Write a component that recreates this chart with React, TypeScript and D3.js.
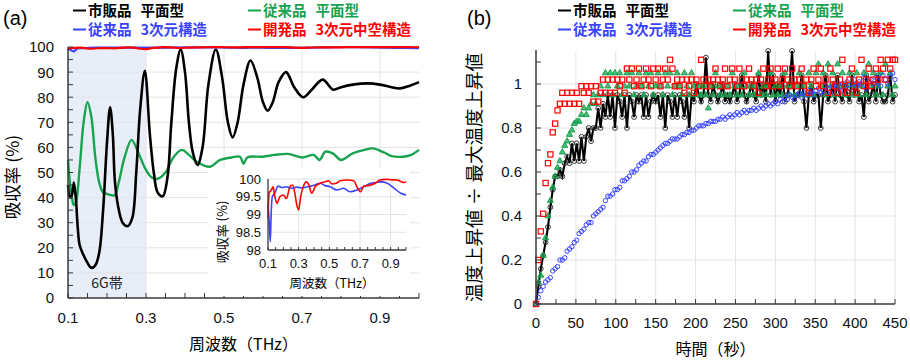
import React from "react";
import * as d3 from "d3";

const NUM = "'Liberation Sans', Arial, sans-serif";
const JP = "'Noto Sans CJK JP', 'Noto Sans', sans-serif";

const BLACK = "#000000";
const GREEN = "#17a34f";
const BLUE = "#3a44ff";
const RED = "#ff0000";

// ---- (a) absorption spectra, frequency (THz) / absorption (%)
const freqBlack = [0.1, 0.105, 0.11, 0.115, 0.12, 0.125, 0.13, 0.14, 0.15, 0.16, 0.17, 0.18, 0.19, 0.2, 0.208, 0.215, 0.22, 0.228, 0.24, 0.253, 0.265, 0.275, 0.285, 0.297, 0.31, 0.32, 0.33, 0.343, 0.355, 0.365, 0.378, 0.389, 0.4, 0.41, 0.42, 0.432, 0.445, 0.46, 0.479, 0.495, 0.51, 0.522, 0.535, 0.55, 0.568, 0.585, 0.6, 0.612, 0.625, 0.64, 0.659, 0.68, 0.703, 0.725, 0.753, 0.78, 0.8, 0.83, 0.87, 0.9, 0.93, 0.951, 0.975, 1.0];
const absBlack = [45, 40, 41, 46, 40, 28, 21, 17, 14, 12, 13, 18, 35, 62, 76, 65, 47, 37, 30, 28.6, 32, 50, 75, 90.5, 65, 50, 42, 40.5, 48, 70, 92, 99, 90, 70, 58, 53, 60, 85, 99, 88, 70, 64, 70, 85, 94.6, 88, 78, 74.6, 78, 86, 90, 84, 80, 83, 87, 83, 84, 85, 85.5, 85, 84, 83.5, 84.5, 86];

const freqGreen = [0.1, 0.105, 0.11, 0.115, 0.12, 0.13, 0.14, 0.15, 0.16, 0.17, 0.18, 0.19, 0.2, 0.21, 0.22, 0.23, 0.245, 0.263, 0.28, 0.3, 0.315, 0.33, 0.35, 0.37, 0.392, 0.41, 0.43, 0.464, 0.49, 0.52, 0.541, 0.55, 0.56, 0.6, 0.63, 0.664, 0.7, 0.73, 0.745, 0.76, 0.78, 0.8, 0.83, 0.86, 0.882, 0.91, 0.93, 0.96, 0.98, 1.0];
const absGreen = [55, 46, 40, 37, 38, 52, 70, 78, 72, 56, 46, 42, 41.5, 41, 41, 46, 56, 63, 58, 51, 48, 47.5, 50, 56, 59, 57, 54.3, 52.3, 55, 56, 56.3, 53.5, 56, 56.3, 57, 57.4, 56, 57, 55, 58.3, 57.5, 55, 57.6, 59, 59.6, 58, 56.5, 56.3, 57, 59];

const freqBlue = [0.1, 0.107, 0.115, 0.12, 0.128, 0.144, 0.166, 0.19, 0.22, 0.25, 0.286, 0.32, 0.374, 0.41, 0.44, 0.47, 0.506, 0.55, 0.593, 0.637, 0.681, 0.725, 0.769, 0.8, 0.835, 0.878, 0.922, 0.966, 1.0];
const absBlue = [99.31, 98.85, 98.23, 98.94, 99.5, 99.6, 99.8, 99.76, 99.78, 99.74, 99.77, 99.75, 99.8, 99.84, 99.88, 99.82, 99.78, 99.69, 99.74, 99.64, 99.69, 99.78, 99.88, 99.9, 99.92, 99.88, 99.74, 99.6, 99.55];

const freqRed = [0.1, 0.107, 0.122, 0.133, 0.145, 0.159, 0.177, 0.2, 0.22, 0.243, 0.26, 0.275, 0.286, 0.3, 0.313, 0.33, 0.348, 0.365, 0.385, 0.407, 0.44, 0.47, 0.495, 0.517, 0.545, 0.57, 0.615, 0.66, 0.68, 0.703, 0.725, 0.76, 0.8, 0.83, 0.868, 0.9, 0.944, 0.97, 0.988, 1.0];
const absRed = [98.9, 99.6, 99.69, 99.78, 99.5, 99.31, 99.5, 99.55, 99.45, 99.78, 99.83, 99.6, 99.31, 99.13, 99.5, 99.78, 99.92, 99.85, 99.6, 99.78, 99.88, 99.92, 99.95, 99.86, 99.88, 99.95, 99.97, 99.95, 99.78, 99.64, 99.8, 99.82, 99.88, 99.97, 99.99, 99.98, 99.97, 99.92, 99.9, 99.93];

const xTicksA = [0.1, 0.3, 0.5, 0.7, 0.9];
const yTicksA = [0, 10, 20, 30, 40, 50, 60, 70, 80, 90, 100];
const yTicksInset = [98, 98.5, 99, 99.5, 100];

// ---- (b) temperature rise / max temperature rise, sampled every 3 s
const sampleStep = 3;
const riseBlack = [
  0, 0.08, 0.16, 0.22, 0.28, 0.35, 0.44, 0.52, 0.58, 0.58,
  0.61, 0.58, 0.64, 0.67, 0.64, 0.73, 0.65, 0.73, 0.65, 0.76,
  0.65, 0.76, 0.8, 0.74, 0.8, 0.8, 0.89, 0.8, 0.91, 0.85,
  0.95, 0.85, 0.95, 0.8, 0.95, 0.92, 0.85, 0.95, 0.8, 0.95,
  0.92, 0.85, 0.95, 0.92, 0.95, 0.85, 0.95, 0.85, 0.92, 0.95,
  0.92, 0.95, 0.85, 0.95, 0.8, 0.95, 0.92, 0.85, 0.95, 0.85,
  0.95, 0.92, 0.85, 0.95, 0.8, 0.95, 0.92, 1.0, 0.95, 0.92,
  0.95, 1.12, 0.95, 0.92, 1.0, 0.95, 0.92, 0.95, 1.0, 0.92,
  0.95, 0.92, 0.95, 1.0, 0.92, 0.95, 1.04, 0.95, 0.92, 0.95,
  1.0, 0.95, 0.92, 1.04, 0.95, 1.0, 0.92, 1.15, 0.95, 1.04,
  0.92, 1.0, 0.95, 1.04, 0.92, 0.95, 1.0, 1.15, 0.92, 0.95,
  0.95, 1.04, 0.92, 0.8, 0.95, 1.0, 0.92, 0.95, 0.95, 0.8,
  0.95, 1.04, 0.92, 0.95, 1.0, 0.92, 1.04, 0.95, 0.92, 1.0,
  0.95, 0.92, 1.04, 0.95, 1.0, 0.92, 0.95, 0.85, 1.04, 0.92,
  0.95, 1.0, 0.92, 1.04, 0.95, 0.92, 0.92, 0.95, 1.04, 0.92,
  0.95,
];
const riseGreen = [
  0, 0.1, 0.13, 0.22, 0.3, 0.4, 0.47, 0.53, 0.58, 0.62,
  0.65, 0.69, 0.72, 0.74, 0.77, 0.79, 0.82, 0.83, 0.83, 0.86,
  0.89, 0.86, 0.89, 0.91, 0.95, 0.91, 0.95, 0.99, 0.95, 1.05,
  0.99, 1.05, 0.95, 1.05, 0.99, 1.05, 0.95, 0.99, 1.05, 0.99,
  1.05, 0.95, 0.99, 1.05, 0.99, 0.95, 1.05, 0.99, 1.05, 0.95,
  0.99, 1.05, 0.99, 0.95, 1.05, 0.99, 1.05, 0.95, 0.99, 1.05,
  0.99, 0.95, 1.05, 0.99, 0.95, 1.05, 0.99, 0.95, 0.99, 0.95,
  0.99, 0.95, 0.89, 0.99, 0.95, 1.05, 0.99, 0.95, 0.99, 0.95,
  0.99, 0.95, 1.05, 0.99, 0.95, 0.99, 0.95, 1.05, 0.99, 0.95,
  0.99, 0.95, 0.99, 1.05, 0.95, 0.99, 0.95, 0.99, 1.05, 0.95,
  0.99, 0.95, 0.99, 0.95, 1.05, 0.99, 0.95, 0.99, 0.95, 0.99,
  1.05, 0.95, 0.99, 0.95, 1.05, 0.99, 0.95, 1.05, 1.09, 0.99,
  1.05, 0.95, 1.09, 0.99, 1.05, 0.95, 1.09, 0.99, 1.05, 0.95,
  0.99, 1.05, 0.95, 0.99, 1.05, 0.95, 0.99, 1.05, 0.95, 1.09,
  0.99, 1.05, 0.95, 0.99, 1.05, 0.95, 1.09, 0.99, 1.05, 0.95,
  0.99,
];
const riseBlue = [
  0, 0.03, 0.06, 0.08, 0.1, 0.11, 0.12, 0.15, 0.16, 0.17,
  0.2, 0.2, 0.21, 0.24, 0.25, 0.26, 0.28, 0.29, 0.32, 0.33,
  0.34, 0.36, 0.37, 0.37, 0.4, 0.41, 0.42, 0.43, 0.44, 0.47,
  0.49, 0.49, 0.5, 0.52, 0.52, 0.53, 0.56, 0.56, 0.57, 0.58,
  0.6, 0.6, 0.61, 0.63, 0.64, 0.65, 0.65, 0.67, 0.68, 0.68,
  0.69, 0.7, 0.71, 0.72, 0.73, 0.73, 0.74, 0.75, 0.75, 0.75,
  0.76, 0.77, 0.77, 0.78, 0.78, 0.79, 0.79, 0.8, 0.81, 0.81,
  0.81, 0.82, 0.82, 0.83, 0.83, 0.83, 0.84, 0.84, 0.85, 0.84,
  0.85, 0.86, 0.85, 0.86, 0.87, 0.86, 0.87, 0.88, 0.87, 0.88,
  0.88, 0.89, 0.88, 0.89, 0.9, 0.89, 0.9, 0.91, 0.9, 0.91,
  0.92, 0.91, 0.93, 0.92, 0.94, 0.93, 0.95, 0.94, 0.93, 0.95,
  0.96, 0.94, 0.96, 0.95, 0.97, 0.96, 0.95, 0.97, 0.98, 0.96,
  0.97, 0.99, 0.98, 0.96, 0.99, 1.0, 0.98, 0.97, 1.0, 0.99,
  1.01, 0.98, 1.0, 1.02, 0.99, 1.01, 1.0, 1.03, 0.98, 1.01,
  1.02, 1.0, 1.03, 1.01, 0.99, 1.04, 1.02, 1.0, 1.03, 1.05,
  1.02,
];
const riseRed = [
  0, 0.2, 0.33, 0.41, 0.55, 0.64, 0.68, 0.78, 0.82, 0.88,
  0.91, 0.96, 0.91, 0.96, 0.91, 0.96, 0.91, 0.96, 0.91, 0.99,
  0.96, 0.99, 0.96, 0.99, 0.92, 0.99, 0.92, 0.96, 1.02, 0.96,
  1.02, 0.96, 1.02, 0.96, 1.02, 0.99, 1.02, 0.96, 1.07, 1.02,
  1.07, 0.99, 1.02, 1.07, 0.99, 1.02, 1.07, 1.02, 0.99, 1.07,
  1.02, 1.07, 0.99, 1.02, 1.07, 1.02, 1.11, 1.07, 0.99, 1.02,
  0.99, 1.02, 0.96, 1.02, 0.99, 1.02, 0.96, 1.02, 0.99, 1.11,
  1.02, 0.99, 1.02, 0.99, 1.02, 1.07, 1.02, 0.99, 1.02, 1.07,
  0.99, 1.02, 1.07, 1.02, 0.99, 1.07, 1.02, 0.99, 1.02, 1.07,
  1.02, 0.99, 1.02, 0.96, 1.02, 1.07, 0.99, 1.02, 1.07, 0.99,
  1.02, 1.07, 0.99, 1.02, 1.07, 1.02, 0.99, 1.07, 1.02, 0.99,
  1.02, 1.07, 0.99, 1.02, 0.96, 1.02, 1.07, 0.99, 1.02, 1.07,
  0.99, 1.02, 0.96, 1.07, 1.02, 0.99, 0.96, 1.02, 1.11, 0.99,
  0.96, 1.02, 1.07, 0.99, 0.96, 1.02, 1.11, 0.99, 1.02, 1.07,
  0.99, 1.02, 1.07, 1.02, 1.11, 1.07, 1.02, 1.11, 1.07, 1.11,
  1.11,
];
const xTicksB = [0, 50, 100, 150, 200, 250, 300, 350, 400, 450];
const yTicksB = [0, 0.2, 0.4, 0.6, 0.8, 1];

// ---- scales
const xA = d3.scaleLinear().domain([0.1, 1.0]).range([68, 419]);
const yA = d3.scaleLinear().domain([0, 100]).range([298, 47]);
const xI = d3.scaleLinear().domain([0.1, 1.0]).range([268, 406]);
const yI = d3.scaleLinear().domain([98, 100]).range([250, 179]);
const xB = d3.scaleLinear().domain([0, 450]).range([536, 895]);
const yB = d3.scaleLinear().domain([0, 1.15]).range([304, 51]);

const AXIS = "#3a3a3a";
const GRID = "#e4e4e4";

function spectrum(fx, fy, sx, sy, curve) {
  const pts = fx.map((f, i) => [f, fy[i]]);
  return d3.line().x((d) => sx(d[0])).y((d) => sy(d[1])).curve(curve)(pts);
}

function Legend({ x0, x1 }) {
  const items = [
    { x: x0, y: 16, c: BLACK, a: "市販品", b: "平面型" },
    { x: x1, y: 16, c: GREEN, a: "従来品", b: "平面型" },
    { x: x0, y: 35, c: BLUE, a: "従来品", b: "3次元構造" },
    { x: x1, y: 35, c: RED, a: "開発品", b: "3次元中空構造" },
  ];
  return (
    <g fontFamily={JP} fontWeight="bold" fontSize={14.5}>
      {items.map((it, i) => (
        <g key={i}>
          <line x1={it.x} x2={it.x + 13} y1={it.y - 5.5} y2={it.y - 5.5} stroke={it.c} strokeWidth={2} />
          <text x={it.x + 15} y={it.y} fill={it.c}>
            <tspan>{it.a}</tspan>
            <tspan dx={9}>{it.b}</tspan>
          </text>
        </g>
      ))}
    </g>
  );
}

function PanelA() {
  const x0 = xA.range()[0], x1 = xA.range()[1];
  const y0 = yA.range()[0], y1 = yA.range()[1];
  const minorX = d3.range(0.1, 1.0001, 0.05);
  const minorY = d3.range(0, 100.01, 5);
  const ix0 = xI.range()[0], ix1 = xI.range()[1];
  const iy0 = yI.range()[0], iy1 = yI.range()[1];
  return (
    <g>
      <text x={3} y={25} fontFamily={NUM} fontSize={20}>(a)</text>
      <Legend x0={73} x1={248} />
      {/* 6G band */}
      <rect x={xA(0.1)} y={yA(100)} width={xA(0.3) - xA(0.1)} height={yA(0) - yA(100)} fill="#e8eef8" />
      {yTicksA.slice(1, -1).map((v) => (
        <line key={v} x1={x0} x2={x1} y1={yA(v)} y2={yA(v)} stroke={GRID} />
      ))}
      {xTicksA.slice(1).map((v) => (
        <line key={v} x1={xA(v)} x2={xA(v)} y1={y0} y2={y1} stroke={GRID} />
      ))}
      <text x={xA(0.2)} y={yA(3.8)} textAnchor="middle" fontFamily={JP} fontSize={14} fill="#222">6G帯</text>
      <path d={spectrum(freqGreen, absGreen, xA, yA, d3.curveCatmullRom)} fill="none" stroke={GREEN} strokeWidth={2.4} />
      <path d={spectrum(freqBlack, absBlack, xA, yA, d3.curveCatmullRom)} fill="none" stroke={BLACK} strokeWidth={2.6} />
      <path d={spectrum(freqBlue, absBlue, xA, yA, d3.curveMonotoneX)} fill="none" stroke={BLUE} strokeWidth={2.2} />
      <path d={spectrum(freqRed, absRed, xA, yA, d3.curveMonotoneX)} fill="none" stroke={RED} strokeWidth={2.2} />
      {/* axes */}
      <line x1={x0} x2={x0} y1={y0} y2={y1} stroke={AXIS} strokeWidth={1.5} />
      <line x1={x0} x2={x1} y1={y0} y2={y0} stroke={AXIS} strokeWidth={1.5} />
      {minorY.map((v) => (
        <line key={v} x1={x0} x2={x0 + 5} y1={yA(v)} y2={yA(v)} stroke={AXIS} />
      ))}
      {minorX.map((v) => (
        <line key={v} x1={xA(v)} x2={xA(v)} y1={y0} y2={y0 - 5} stroke={AXIS} />
      ))}
      <g fontFamily={NUM} fontSize={15} fill="#111">
        {yTicksA.map((v) => (
          <text key={v} x={54} y={yA(v)} dy="0.36em" textAnchor="end">{v}</text>
        ))}
        {xTicksA.map((v) => (
          <text key={v} x={xA(v)} y={323} textAnchor="middle">{v}</text>
        ))}
      </g>
      <text transform={`translate(19,177) rotate(-90)`} textAnchor="middle" fontFamily={JP} fontSize={17.5}>吸収率 (%)</text>
      <text x={(x0 + x1) / 2} y={350} textAnchor="middle" fontFamily={JP} fontSize={16}>周波数（THz）</text>

      {/* inset */}
      <rect x={208} y={168} width={202} height={128} fill="#ffffff" />
      {yTicksInset.slice(1).map((v) => (
        <line key={v} x1={ix0} x2={ix1} y1={yI(v)} y2={yI(v)} stroke={GRID} />
      ))}
      {xTicksA.slice(1).map((v) => (
        <line key={v} x1={xI(v)} x2={xI(v)} y1={iy0} y2={iy1} stroke={GRID} />
      ))}
      <path d={spectrum(freqBlue, absBlue, xI, yI, d3.curveMonotoneX)} fill="none" stroke={BLUE} strokeWidth={1.6} />
      <path d={spectrum(freqRed, absRed, xI, yI, d3.curveMonotoneX)} fill="none" stroke={RED} strokeWidth={1.6} />
      <line x1={ix0} x2={ix0} y1={iy0} y2={iy1} stroke={AXIS} strokeWidth={1.3} />
      <line x1={ix0} x2={ix1} y1={iy0} y2={iy0} stroke={AXIS} strokeWidth={1.3} />
      {minorX.map((v) => (
        <line key={v} x1={xI(v)} x2={xI(v)} y1={iy0} y2={iy0 - 3} stroke={AXIS} />
      ))}
      <g fontFamily={NUM} fontSize={13} fill="#111">
        {yTicksInset.map((v) => (
          <text key={v} x={261} y={yI(v)} dy="0.36em" textAnchor="end">{v}</text>
        ))}
        {xTicksA.map((v) => (
          <text key={v} x={xI(v)} y={268} textAnchor="middle">{v}</text>
        ))}
      </g>
      <text transform={`translate(227,232) rotate(-90)`} textAnchor="middle" fontFamily={JP} fontSize={13}>吸収率 (%)</text>
      <text x={332} y={288} textAnchor="middle" fontFamily={JP} fontSize={12.5}>周波数（THz）</text>
    </g>
  );
}

function PanelB() {
  const x0 = xB.range()[0], x1 = xB.range()[1];
  const y0 = yB.range()[0], y1 = yB.range()[1];
  const t = (i) => i * sampleStep;
  const blackLine = d3.line().x((d, i) => xB(t(i))).y((d) => yB(d))(riseBlack);
  const tri = d3.symbol(d3.symbolTriangle, 16)();
  return (
    <g>
      <text x={467} y={25} fontFamily={NUM} fontSize={20}>(b)</text>
      <Legend x0={558} x1={733} />
      {yTicksB.slice(1).map((v) => (
        <line key={v} x1={x0} x2={x1} y1={yB(v)} y2={yB(v)} stroke={GRID} />
      ))}
      {xTicksB.slice(1).map((v) => (
        <line key={v} x1={xB(v)} x2={xB(v)} y1={y0} y2={y1} stroke={GRID} />
      ))}
      <path d={blackLine} fill="none" stroke={BLACK} strokeWidth={2.1} />
      {riseBlack.map((v, i) => (
        <circle key={i} cx={xB(t(i))} cy={yB(v)} r={2.4} fill="none" stroke="#222" strokeWidth={0.9} />
      ))}
      {riseGreen.map((v, i) => (
        <path key={i} d={tri} transform={`translate(${xB(t(i))},${yB(v)})`} fill={GREEN} fillOpacity={0.75} stroke={GREEN} strokeWidth={1} />
      ))}
      {riseBlue.map((v, i) => (
        <circle key={i} cx={xB(t(i))} cy={yB(v)} r={2.2} fill="none" stroke={BLUE} strokeWidth={1} />
      ))}
      {riseRed.map((v, i) => (
        <rect key={i} x={xB(t(i)) - 2.6} y={yB(v) - 2.6} width={5.2} height={5.2} fill="none" stroke={RED} strokeWidth={1.2} />
      ))}
      <line x1={x0} x2={x0} y1={y0} y2={y1 - 1} stroke={AXIS} strokeWidth={1.5} />
      <line x1={x0} x2={x1} y1={y0} y2={y0} stroke={AXIS} strokeWidth={1.5} />
      {d3.range(0, 1.101, 0.1).map((v) => (
        <line key={v} x1={x0} x2={x0 + 5} y1={yB(v)} y2={yB(v)} stroke={AXIS} />
      ))}
      {d3.range(0, 451, 25).map((v) => (
        <line key={v} x1={xB(v)} x2={xB(v)} y1={y0} y2={y0 - 5} stroke={AXIS} />
      ))}
      <g fontFamily={NUM} fontSize={15} fill="#111">
        {yTicksB.map((v) => (
          <text key={v} x={522} y={yB(v)} dy="0.36em" textAnchor="end">{v}</text>
        ))}
        {xTicksB.map((v) => (
          <text key={v} x={xB(v)} y={328} textAnchor="middle">{v}</text>
        ))}
      </g>
      <text transform={`translate(481,${(y0 + y1) / 2}) rotate(-90)`} textAnchor="middle" fontFamily={JP} fontSize={18.5}>温度上昇値 ÷ 最大温度上昇値</text>
      <text x={(x0 + x1) / 2} y={355} textAnchor="middle" fontFamily={JP} fontSize={16}>時間（秒）</text>
    </g>
  );
}

export default function App() {
  return (
    <svg width={910} height={360} viewBox="0 0 910 360" style={{ position: "absolute", left: 0, top: 0, background: "#fff" }}>
      <PanelA />
      <PanelB />
    </svg>
  );
}
